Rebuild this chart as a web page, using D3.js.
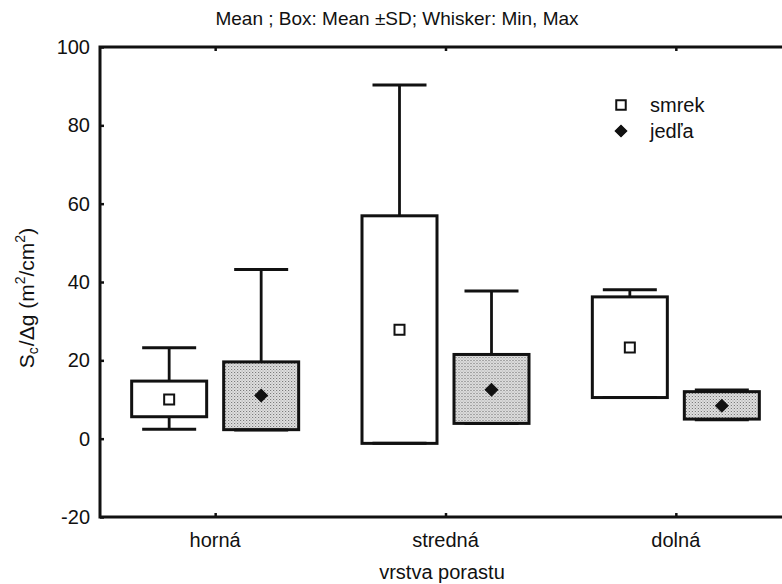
<!DOCTYPE html>
<html>
<head>
<meta charset="utf-8">
<script src="https://cdn.jsdelivr.net/npm/d3@7"></script>
<style>
  html, body { margin: 0; padding: 0; background: #fff; }
  svg { display: block; }
  text { font-family: "Liberation Sans", Arial, sans-serif; fill: #111; }
</style>
</head>
<body>
<svg id="chart" width="782" height="584"></svg>
<script>
// ---- data ----
const categories = ["horná", "stredná", "dolná"];
const seriesNames = ["smrek", "jedľa"];
const yTicks = [-20, 0, 20, 40, 60, 80, 100];

const smrekMean = [10.0, 27.8, 23.3];
const smrekBoxLow = [5.6, -1.2, 10.5];
const smrekBoxHigh = [14.7, 56.9, 36.2];
const smrekMin = [2.4, -1.2, 10.5];
const smrekMax = [23.2, 90.3, 38.0];

const jedlaMean = [11.0, 12.5, 8.4];
const jedlaBoxLow = [2.3, 3.9, 5.0];
const jedlaBoxHigh = [19.6, 21.5, 12.0];
const jedlaMin = [2.2, 3.9, 4.8];
const jedlaMax = [43.2, 37.7, 12.4];

const titleText = "Mean ; Box: Mean ±SD; Whisker: Min, Max";
const xTitle = "vrstva porastu";

// ---- layout ----
const svg = d3.select("#chart");
const pL = 100, pR = 791, pT = 47, pB = 517;

const x = d3.scalePoint().domain(categories).range([pL, pR]).padding(0.5);
const xSub = d3.scalePoint().domain(seriesNames).range([-46, 46]);
const y = d3.scaleLinear().domain([-20, 100]).range([pB, pT]);

// pattern for jedľa boxes
const defs = svg.append("defs");
const pat = defs.append("pattern").attr("id", "stip").attr("patternUnits", "userSpaceOnUse")
  .attr("width", 3).attr("height", 3);
pat.append("rect").attr("width", 3).attr("height", 3).attr("fill", "#e2e2e2");
pat.append("rect").attr("x", 0).attr("y", 0).attr("width", 1).attr("height", 1).attr("fill", "#666");
pat.append("rect").attr("x", 1.5).attr("y", 1.5).attr("width", 1).attr("height", 1).attr("fill", "#8a8a8a");

// title
svg.append("text").attr("x", 397).attr("y", 25).attr("text-anchor", "middle")
  .attr("font-size", 19).text(titleText);

// y axis (ticks inward, labels outside)
const yAxis = d3.axisRight(y).tickValues(yTicks).tickSize(4).tickFormat(d => String(d));
const gy = svg.append("g").attr("transform", `translate(${pL},0)`).call(yAxis);
gy.select(".domain").remove();
gy.selectAll(".tick line").attr("stroke", "#111").attr("stroke-width", 2.5);
gy.selectAll(".tick text").attr("x", -10).attr("text-anchor", "end")
  .attr("font-size", 20).attr("font-family", "Liberation Sans, Arial, sans-serif").attr("fill", "#111");

// x axis (ticks inward, bottom and top)
const xAxis = d3.axisTop(x).tickSize(4).tickFormat("");
const gx = svg.append("g").attr("transform", `translate(0,${pB})`).call(xAxis);
gx.select(".domain").remove();
gx.selectAll(".tick line").attr("stroke", "#111").attr("stroke-width", 2.5);
const gxt = svg.append("g").attr("transform", `translate(0,${pT})`).call(d3.axisBottom(x).tickSize(4).tickFormat(""));
gxt.select(".domain").remove();
gxt.selectAll(".tick line").attr("stroke", "#111").attr("stroke-width", 2.5);

svg.append("g").selectAll("text").data(categories).join("text")
  .attr("x", d => x(d)).attr("y", 547).attr("text-anchor", "middle")
  .attr("font-size", 20).text(d => d);

// frame
svg.append("rect").attr("x", pL).attr("y", pT).attr("width", pR - pL).attr("height", pB - pT)
  .attr("fill", "none").attr("stroke", "#111").attr("stroke-width", 3);

// axis titles
svg.append("text").attr("x", 442).attr("y", 579).attr("text-anchor", "middle")
  .attr("font-size", 20).text(xTitle);

const yt = svg.append("text").attr("transform", "translate(34,298) rotate(-90)")
  .attr("text-anchor", "middle").attr("font-size", 21);
yt.append("tspan").text("S");
yt.append("tspan").attr("font-size", 14).attr("dy", 4).text("c");
yt.append("tspan").attr("dy", -4).attr("dx", 1).text("/Δg (m");
yt.append("tspan").attr("font-size", 14).attr("dy", -9).text("2");
yt.append("tspan").attr("dy", 9).text("/cm");
yt.append("tspan").attr("font-size", 14).attr("dy", -9).text("2");
yt.append("tspan").attr("dy", 9).text(")");

// ---- boxes ----
const data = [];
categories.forEach((c, i) => {
  data.push({cat: c, s: "smrek", mean: smrekMean[i], lo: smrekBoxLow[i], hi: smrekBoxHigh[i], min: smrekMin[i], max: smrekMax[i]});
  data.push({cat: c, s: "jedľa", mean: jedlaMean[i], lo: jedlaBoxLow[i], hi: jedlaBoxHigh[i], min: jedlaMin[i], max: jedlaMax[i]});
});

const boxW = 75, capW = 54;
const g = svg.append("g");
const grp = g.selectAll("g.box").data(data).join("g").attr("class", "box")
  .attr("transform", d => `translate(${x(d.cat) + xSub(d.s)},0)`);

// whisker stems
grp.append("line").attr("x1", 0).attr("x2", 0).attr("y1", d => y(d.hi)).attr("y2", d => y(d.max))
  .attr("stroke", "#111").attr("stroke-width", 2.8);
grp.append("line").attr("x1", 0).attr("x2", 0).attr("y1", d => y(d.lo)).attr("y2", d => y(d.min))
  .attr("stroke", "#111").attr("stroke-width", 2.8);
// boxes
grp.append("rect").attr("x", -boxW / 2).attr("width", boxW)
  .attr("y", d => y(d.hi)).attr("height", d => y(d.lo) - y(d.hi))
  .attr("fill", d => d.s === "smrek" ? "#fff" : "url(#stip)")
  .attr("stroke", "#111").attr("stroke-width", 3);
// caps
grp.append("line").attr("x1", -capW / 2).attr("x2", capW / 2).attr("y1", d => y(d.max)).attr("y2", d => y(d.max))
  .attr("stroke", "#111").attr("stroke-width", 3);
grp.append("line").attr("x1", -capW / 2).attr("x2", capW / 2).attr("y1", d => y(d.min)).attr("y2", d => y(d.min))
  .attr("stroke", "#111").attr("stroke-width", 3);

// mean markers
const sq = d3.symbol().type(d3.symbolSquare).size(100);
const dia = d3.symbol().type(d3.symbolSquare).size(80);
grp.append("path").attr("transform", d => `translate(0,${y(d.mean)})` + (d.s === "smrek" ? "" : " rotate(45)"))
  .attr("d", d => d.s === "smrek" ? sq() : dia())
  .attr("fill", d => d.s === "smrek" ? "#fff" : "#111")
  .attr("stroke", "#111").attr("stroke-width", d => d.s === "smrek" ? 2 : 1);

// ---- legend ----
const lg = svg.append("g").selectAll("g").data(seriesNames).join("g")
  .attr("transform", (d, i) => `translate(621,${105 + i * 26})`);
lg.append("path").attr("d", d => d === "smrek" ? d3.symbol().type(d3.symbolSquare).size(90)() : d3.symbol().type(d3.symbolSquare).size(70)())
  .attr("transform", d => d === "smrek" ? null : "rotate(45)")
  .attr("fill", d => d === "smrek" ? "#fff" : "#111").attr("stroke", "#111")
  .attr("stroke-width", d => d === "smrek" ? 2 : 1);
lg.append("text").attr("x", 29).attr("y", 7).attr("font-size", 20).text(d => d);
</script>
</body>
</html>
